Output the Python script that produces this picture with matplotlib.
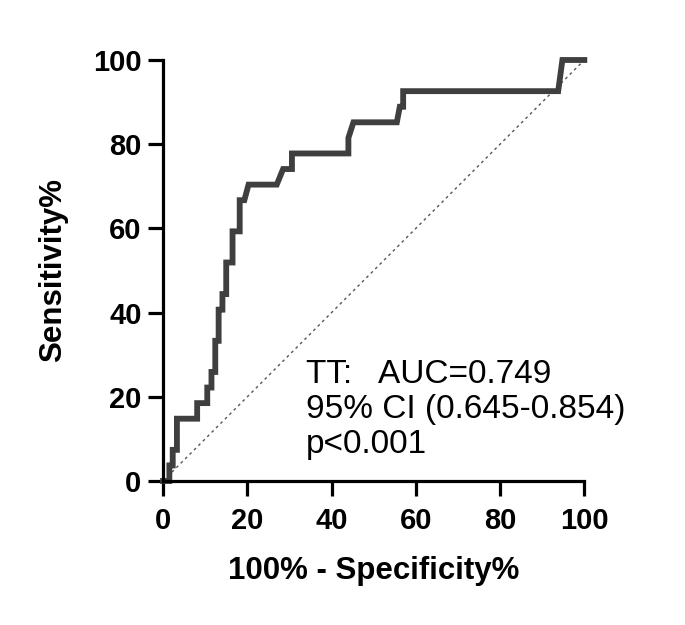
import matplotlib
matplotlib.use("Agg")
import matplotlib.pyplot as plt

plt.rcParams['font.family'] = ['Liberation Sans', 'DejaVu Sans']

# ROC curve points (100% - specificity, sensitivity)
fpr = [0, 1.5, 1.5, 2.3, 2.3, 3.3, 3.3, 8.1, 8.1, 10.5, 10.5, 11.5, 11.5,
       12.4, 12.4, 13.2, 13.2, 14.1, 14.1, 15.0, 15.0, 16.5, 16.5, 18.2, 18.2,
       19.3, 20.3, 27.0, 28.5, 30.6, 30.6, 44.0, 44.0, 45.2, 55.5, 56.2, 57.0,
       57.0, 93.8, 94.8, 100]
tpr = [0, 0, 3.7, 3.7, 7.4, 7.4, 14.8, 14.8, 18.5, 18.5, 22.2, 22.2, 25.9,
       25.9, 33.3, 33.3, 40.7, 40.7, 44.4, 44.4, 51.9, 51.9, 59.3, 59.3, 66.7,
       66.7, 70.4, 70.4, 74.1, 74.1, 77.8, 77.8, 81.5, 85.2, 85.2, 88.9, 88.9,
       92.6, 92.6, 100, 100]
ref_line = [0, 100]
ticks = [0, 20, 40, 60, 80, 100]
note = "TT:   AUC=0.749\n95% CI (0.645-0.854)\np<0.001"

fig = plt.figure(figsize=(6.85, 6.25), dpi=100)
ax = fig.add_axes([0.238, 0.2304, 0.615, 0.6736])

ax.plot(ref_line, ref_line, color='#555555', lw=1.0, ls=(0, (2, 2.5)), zorder=1)
ax.plot(fpr, tpr, color='#3f3f3f', lw=4.2, solid_joinstyle='miter', zorder=3,
        clip_on=False)

ax.set_xlim(0, 100)
ax.set_ylim(0, 100)
ax.set_xticks(ticks)
ax.set_yticks(ticks)
for s in ['top', 'right']:
    ax.spines[s].set_visible(False)
for s in ['left', 'bottom']:
    ax.spines[s].set_linewidth(2.3)
    ax.spines[s].set_zorder(4)
ax.tick_params(width=2.3, length=10.5, labelsize=21)
ax.tick_params(axis='x', pad=8)
ax.tick_params(axis='y', pad=5)
for lab in ax.get_xticklabels() + ax.get_yticklabels():
    lab.set_fontweight('bold')

ax.set_xlabel("100% - Specificity%", fontsize=22.5, fontweight='bold', labelpad=15)
ax.set_ylabel("Sensitivity%", fontsize=22.5, fontweight='bold', labelpad=18)

ax.text(34, 29, note, fontsize=24, ha='left', va='top', linespacing=1.17)

fig.savefig("out.png", dpi=100, facecolor='white')
